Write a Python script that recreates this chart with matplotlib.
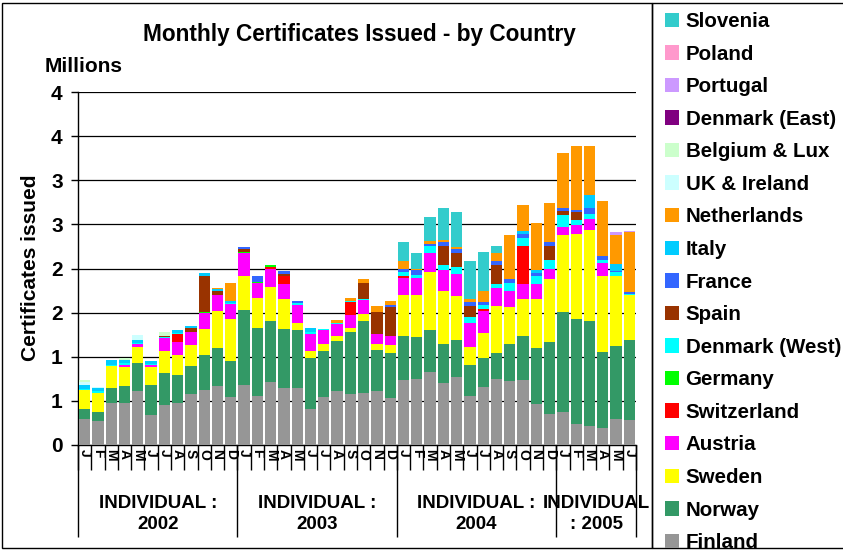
import matplotlib
matplotlib.use("Agg")
import matplotlib.pyplot as plt
import matplotlib.transforms as mtransforms
from matplotlib.patches import Rectangle, Patch
import numpy as np

plt.rcParams['font.family'] = ['Liberation Sans', 'DejaVu Sans']
plt.rcParams['font.weight'] = 'bold'

# months Jan 2002 .. Jun 2005 (values in millions)
months = list("JFMAMJJASOND") * 3 + list("JFMAMJ")
years = ["INDIVIDUAL :\n2002", "INDIVIDUAL :\n2003", "INDIVIDUAL :\n2004", "INDIVIDUAL\n: 2005"]
year_sizes = [12, 12, 12, 6]

finland = [.30, .27, .48, .48, .61, .34, .45, .48, .58, .62, .67, .54,
           .68, .56, .71, .65, .65, .41, .54, .61, .58, .59, .61, .53,
           .74, .75, .83, .70, .77, .56, .66, .75, .73, .74, .47, .35,
           .37, .24, .22, .19, .30, .28]
norway = [.11, .10, .17, .19, .32, .34, .37, .31, .32, .40, .43, .41,
          .85, .77, .70, .67, .65, .58, .53, .57, .70, .82, .47, .51,
          .50, .47, .47, .44, .42, .35, .33, .29, .42, .49, .63, .82,
          1.14, 1.19, 1.19, .86, .82, .91]
sweden = [.21, .22, .24, .21, .18, .20, .24, .23, .23, .30, .42, .48,
          .39, .34, .38, .34, .08, .08, .08, .06, .05, .07, .07, .09,
          .46, .48, .66, .61, .50, .20, .28, .54, .41, .42, .56, .71,
          .87, .96, 1.03, .86, .79, .51]
austria = [0, 0, 0, .03, .04, .03, .15, .15, .15, .18, .18, .17,
           .25, .17, .20, .17, .21, .19, .15, .13, .14, .16, .11, .11,
           .19, .19, .21, .23, .25, .27, .25, .20, .19, .18, .17, .12,
           .09, .10, .12, .15, 0, 0]
switzerland = [0, 0, 0, 0, 0, 0, 0, .09, 0, 0, 0, 0,
               0, 0, .03, .09, 0, 0, 0, 0, .15, 0, 0, 0,
               .03, 0, 0, 0, 0, 0, .02, 0, 0, .43, 0, 0,
               0, 0, 0, 0, 0, 0]
germany = [0, 0, 0, 0, 0, 0, 0, 0, 0, .01, 0, 0,
           .02, .01, .02, 0, 0, 0, 0, 0, 0, 0, 0, 0,
           0, 0, 0, 0, 0, 0, 0, 0, 0, 0, 0, 0,
           0, 0, 0, 0, 0, 0]
denmark_west = [.02, .02, .02, .02, .01, .01, .01, .01, 0, 0, 0, .01,
                0, 0, 0, 0, .02, .02, .01, .01, .01, .01, 0, 0,
                .04, .04, .08, .06, .08, .07, .05, .04, .09, .09, .08, .10,
                .14, .06, .06, .04, .05, .01]
spain = [0, 0, 0, 0, 0, 0, .02, 0, .05, .41, .05, 0,
         .03, 0, 0, .02, 0, 0, 0, 0, 0, .19, .25, .32,
         0, 0, 0, .22, .16, .12, 0, .22, 0, 0, 0, .16,
         .04, .09, 0, 0, 0, 0]
france = [0, 0, 0, 0, 0, 0, 0, 0, 0, 0, 0, 0,
          .02, .06, 0, .03, .02, 0, 0, 0, 0, 0, 0, .03,
          .04, .05, .03, .04, .04, .05, .03, .04, .04, .04, .04, .04,
          .03, .02, .07, .04, .01, .02]
italy = [.04, .04, .05, .03, .03, .03, 0, .03, .02, .03, .02, .02,
         0, 0, 0, 0, 0, .05, .01, 0, 0, 0, 0, 0,
         0, 0, 0, 0, 0, 0, 0, 0, 0, .04, .03, 0,
         0, 0, .14, 0, .08, 0]
netherlands = [0, 0, 0, 0, 0, 0, 0, 0, 0, 0, .01, .21,
               0, 0, 0, 0, 0, 0, 0, .04, .04, .04, .06, .04,
               .08, .01, .03, .02, .02, .03, .13, .09, .50, .29, .53, .44,
               .63, .73, .56, .62, .33, .68]
uk_ireland = [.03, .01, 0, 0, .06, 0, 0, 0, 0, 0, 0, 0,
              0, 0, 0, 0, 0, 0, 0, 0, 0, 0, 0, 0,
              0, 0, 0, 0, 0, 0, 0, 0, 0, 0, 0, 0,
              0, 0, 0, 0, 0, 0]
belgium_lux = [.03, 0, 0, .03, 0, 0, .04, 0, 0, 0, 0, 0,
               0, 0, 0, 0, 0, 0, 0, 0, 0, 0, 0, 0,
               0, 0, 0, 0, 0, 0, 0, 0, 0, 0, 0, 0,
               0, 0, 0, 0, 0, 0]
denmark_east = [0] * 42
portugal = [0] * 40 + [.03, .02]
poland = [0] * 42
slovenia = [0] * 24 + [.22, .19, .27, .37, .40, .43, .44, .08] + [0] * 10

series = [
    ("Finland", finland, "#969696"),
    ("Norway", norway, "#339966"),
    ("Sweden", sweden, "#FFFF00"),
    ("Austria", austria, "#FF00FF"),
    ("Switzerland", switzerland, "#FF0000"),
    ("Germany", germany, "#00FF00"),
    ("Denmark (West)", denmark_west, "#00FFFF"),
    ("Spain", spain, "#993300"),
    ("France", france, "#3366FF"),
    ("Italy", italy, "#00CCFF"),
    ("Netherlands", netherlands, "#FF9900"),
    ("UK & Ireland", uk_ireland, "#CCFFFF"),
    ("Belgium & Lux", belgium_lux, "#CCFFCC"),
    ("Denmark (East)", denmark_east, "#800080"),
    ("Portugal", portugal, "#CC99FF"),
    ("Poland", poland, "#FF99CC"),
    ("Slovenia", slovenia, "#33CCCC"),
]

W, H = 843, 552
fig = plt.figure(figsize=(W / 100, H / 100), dpi=100)
ax = fig.add_axes([78 / W, 1 - 445 / H, (636 - 78) / W, (445 - 92) / H])

x = np.arange(len(months))
bottom = np.zeros(len(months))
handles = []
for name, vals, col in series:
    ax.bar(x, vals, width=0.86, bottom=bottom, color=col, edgecolor='none', zorder=3)
    bottom += np.array(vals)
    handles.append(Patch(facecolor=col, edgecolor='none', label=name))

ax.set_xlim(-0.5, len(months) - 0.5)
ax.set_ylim(0, 4)
yt = np.arange(0, 4.01, 0.5)
ax.set_yticks(yt)
ax.set_yticklabels([str(int(v + 0.5)) for v in yt], fontsize=15, fontweight='bold')
ax.tick_params(axis='y', length=5, width=1, pad=6)
ax.grid(axis='y', color='black', linewidth=0.9, zorder=0)
for s in ['top', 'right']:
    ax.spines[s].set_visible(False)
ax.spines['left'].set_linewidth(1)
ax.spines['bottom'].set_linewidth(1)

ax.set_xticks(x)
ax.set_xticklabels(months, rotation=270, fontsize=10, fontweight='bold')
ax.tick_params(axis='x', which='major', length=0, pad=3)
ax.set_xticks(np.arange(-0.5, len(months), 1), minor=True)
ax.tick_params(axis='x', which='minor', length=18, width=1)

edges = np.concatenate([[0], np.cumsum(year_sizes)]) - 0.5
sec = ax.secondary_xaxis('bottom')
sec.set_xticks(edges)
sec.set_xticklabels([''] * len(edges))
sec.tick_params(length=66, width=1)
sec.spines['bottom'].set_visible(False)

trans = mtransforms.blended_transform_factory(ax.transData, ax.transAxes)
for lab, a, b in zip(years, edges[:-1], edges[1:]):
    ax.text((a + b) / 2, -0.195, lab, transform=trans, ha='center', va='center',
            fontsize=13.5, fontweight='bold', linespacing=1.35)

fig.text(359 / W, 1 - 34 / H, "Monthly Certificates Issued - by Country",
         ha='center', va='center', fontsize=16.3, fontweight='bold')
fig.text(45 / W, 1 - 67 / H, "Millions", ha='left', va='center', fontsize=15, fontweight='bold')
fig.text(30 / W, 1 - 268 / H, "Certificates issued", rotation=90, ha='center', va='center',
         fontsize=15, fontweight='bold')

# frames
fig.patches.append(Rectangle((2 / W, 1 - 548 / H), 650 / W, 545 / H, transform=fig.transFigure,
                             fill=False, edgecolor='black', linewidth=1))
fig.patches.append(Rectangle((652 / W, 1 - 548 / H), 200 / W, 545 / H, transform=fig.transFigure,
                             fill=False, edgecolor='black', linewidth=1))

fig.legend(handles=handles[::-1], loc='upper left', bbox_to_anchor=(665 / W, 1 - 12 / H),
           frameon=False, prop={'weight': 'bold', 'size': 14.8},
           handlelength=0.7, handleheight=0.7, handletextpad=0.3,
           labelspacing=0.66, borderaxespad=0, borderpad=0)

fig.savefig("out.png", dpi=100)
